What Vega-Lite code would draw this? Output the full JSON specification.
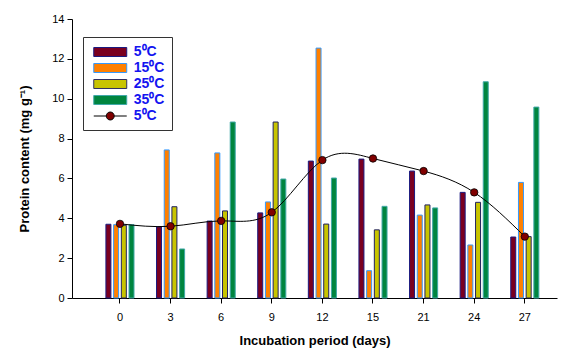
{
  "$schema": "https://vega.github.io/schema/vega-lite/v6.json",
  "width": 485,
  "height": 279,
  "autosize": {"type": "none"},
  "padding": {"left": 72, "top": 19, "right": 7, "bottom": 53},
  "background": "white",
  "config": {
    "view": {"stroke": null},
    "font": "Liberation Sans",
    "axis": {"domainColor": "black", "tickColor": "black", "labelColor": "black", "titleColor": "black", "grid": false, "labelFont": "Liberation Sans", "titleFont": "Liberation Sans"}
  },
  "data": {
    "values": [
      {"day": 0, "series": "5a", "value": 3.7},
      {"day": 0, "series": "15", "value": 3.68},
      {"day": 0, "series": "25", "value": 3.65},
      {"day": 0, "series": "35", "value": 3.68},
      {"day": 3, "series": "5a", "value": 3.57},
      {"day": 3, "series": "15", "value": 7.43},
      {"day": 3, "series": "25", "value": 4.58},
      {"day": 3, "series": "35", "value": 2.46},
      {"day": 6, "series": "5a", "value": 3.86},
      {"day": 6, "series": "15", "value": 7.28},
      {"day": 6, "series": "25", "value": 4.37},
      {"day": 6, "series": "35", "value": 8.83},
      {"day": 9, "series": "5a", "value": 4.27},
      {"day": 9, "series": "15", "value": 4.82},
      {"day": 9, "series": "25", "value": 8.83},
      {"day": 9, "series": "35", "value": 5.97},
      {"day": 12, "series": "5a", "value": 6.87},
      {"day": 12, "series": "15", "value": 12.54},
      {"day": 12, "series": "25", "value": 3.71},
      {"day": 12, "series": "35", "value": 6.02},
      {"day": 15, "series": "5a", "value": 6.97},
      {"day": 15, "series": "15", "value": 1.37},
      {"day": 15, "series": "25", "value": 3.42},
      {"day": 15, "series": "35", "value": 4.6},
      {"day": 21, "series": "5a", "value": 6.37},
      {"day": 21, "series": "15", "value": 4.16},
      {"day": 21, "series": "25", "value": 4.67},
      {"day": 21, "series": "35", "value": 4.52},
      {"day": 24, "series": "5a", "value": 5.3},
      {"day": 24, "series": "15", "value": 2.66},
      {"day": 24, "series": "25", "value": 4.8},
      {"day": 24, "series": "35", "value": 10.85},
      {"day": 27, "series": "5a", "value": 3.06},
      {"day": 27, "series": "15", "value": 5.8},
      {"day": 27, "series": "25", "value": 3.08},
      {"day": 27, "series": "35", "value": 9.58},
      {"day": 0, "series": "5b", "value": 3.72},
      {"day": 3, "series": "5b", "value": 3.6},
      {"day": 6, "series": "5b", "value": 3.87},
      {"day": 9, "series": "5b", "value": 4.3},
      {"day": 12, "series": "5b", "value": 6.92},
      {"day": 15, "series": "5b", "value": 7.0},
      {"day": 21, "series": "5b", "value": 6.37},
      {"day": 24, "series": "5b", "value": 5.3},
      {"day": 27, "series": "5b", "value": 3.08}
    ]
  },
  "encoding": {
    "x": {
      "field": "day",
      "type": "ordinal",
      "scale": {"paddingInner": 0.39, "paddingOuter": 0.487, "align": 0.66},
      "axis": {"title": "Incubation period (days)", "labelAngle": 0, "labelFontSize": 11, "tickSize": 5, "labelPadding": 8, "titleFontSize": 13, "titleFontWeight": "bold", "titlePadding": 12}
    },
    "y": {
      "field": "value",
      "type": "quantitative",
      "scale": {"domain": [0, 14]},
      "axis": {"title": "Protein content (mg g⁻¹)", "values": [0, 2, 4, 6, 8, 10, 12, 14], "labelFontSize": 11, "tickSize": 5, "labelPadding": 3, "titleFontSize": 13, "titleFontWeight": "bold", "titlePadding": 20}
    }
  },
  "layer": [
    {
      "transform": [{"filter": "datum.series !== '5b'"}],
      "mark": {"type": "bar", "strokeWidth": 1},
      "encoding": {
        "xOffset": {"field": "series", "type": "nominal", "sort": ["5a", "15", "25", "35"], "scale": {"paddingInner": 0.35, "paddingOuter": 0.18}},
        "fill": {
          "field": "series",
          "type": "nominal",
          "scale": {"domain": ["5a", "15", "25", "35", "5b"], "range": ["#7a0020", "#ff8000", "#c8c400", "#00853f", "#800000"]},
          "legend": {
            "title": null,
            "orient": "none",
            "legendX": 11,
            "legendY": 18,
            "labelExpr": "datum.value === '5a' || datum.value === '5b' ? '5⁰C' : datum.value + '⁰C'",
            "labelFont": "Liberation Sans",
            "labelFontWeight": "bold",
            "labelFontSize": 14,
            "labelColor": "#1414f0",
            "symbolType": "M-2.276,-0.62H2.276V0.62H-2.276Z",
            "symbolSize": 210,
            "symbolOffset": 12.25,
            "labelOffset": 15.5,
            "padding": 7,
            "rowPadding": 1,
            "strokeColor": "#333333",
            "fillColor": "white",
            "symbolStrokeWidth": 1,
            "symbolOpacity": 1,
            "encoding": {
              "symbols": {
                "shape": {"value": {"expr": "datum.value === '5b' ? 'M-2.276,0H-0.55M0.55,0H2.276M-0.55,0A0.55,0.55 0 1,0 0.55,0A0.55,0.55 0 1,0 -0.55,0Z' : 'M-2.276,-0.62H2.276V0.62H-2.276Z'"}},
                "stroke": {"value": {"expr": "datum.value === '5a' ? '#1a1a80' : datum.value === '15' ? '#3399ff' : datum.value === '25' ? '#303060' : datum.value === '35' ? '#40a8a8' : 'black'"}}
              }
            }
          }
        },
        "stroke": {
          "field": "series",
          "type": "nominal",
          "scale": {"domain": ["5a", "15", "25", "35"], "range": ["#1a1a80", "#3399ff", "#202060", "#40a8a8"]},
          "legend": null
        }
      }
    },
    {
      "transform": [{"filter": "datum.series === '5b'"}],
      "mark": {"type": "line", "interpolate": "natural", "color": "black", "strokeWidth": 1},
      "encoding": {}
    },
    {
      "transform": [{"filter": "datum.series === '5b'"}],
      "mark": {"type": "point", "filled": true, "size": 55, "stroke": "black", "strokeWidth": 0.8, "opacity": 1},
      "encoding": {
        "fill": {"field": "series", "type": "nominal"}
      }
    }
  ]
}
